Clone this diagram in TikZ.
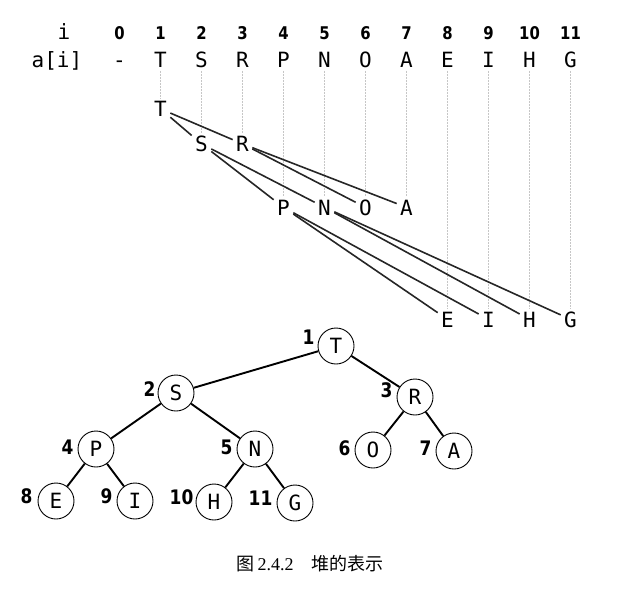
\documentclass[tikz,border=0pt]{standalone}
\usepackage{fontspec}
\newfontfamily\monof{DejaVu Sans Mono}
\newfontfamily\numf{DejaVu Sans}[FakeStretch=0.85]
\newfontfamily\cjkf{Noto Sans CJK SC}
\newfontfamily\serf{Liberation Serif}
\tikzset{
  arrlet/.style={font=\monof\fontsize{21}{25}\selectfont, inner sep=1pt, outer sep=2.5pt, anchor=base},
  hdr/.style={font=\numf\bfseries\fontsize{17.5}{21}\selectfont, inner sep=0pt, anchor=base},
  guide/.style={gray!45, line width=0.5pt, densely dotted},
  link/.style={line width=1.6pt, black!85},
  heapnode/.style={circle, draw, line width=0.9pt, minimum size=36pt, inner sep=0pt, font=\monof\fontsize{21}{25}\selectfont},
  tedge/.style={line width=1.9pt},
  idx/.style={font=\numf\bfseries\fontsize{20}{24}\selectfont, inner sep=0pt, anchor=east},
}
\begin{document}
\begin{tikzpicture}[x=1pt, y=-1pt]
\useasboundingbox (0,0) rectangle (618,594);
% header
\node[arrlet] (hi) at (64,40) {i};
\node[arrlet] (ai) at (57,67) {a[i]};
\foreach \k/\v in {0/-,1/T,2/S,3/R,4/P,5/N,6/O,7/A,8/E,9/I,10/H,11/G}{
  \node[hdr] (h\k) at ({119.5+41*\k},40) {\k};
  \node[arrlet] (a\k) at ({119.5+41*\k},67) {\v};
}
% upper layered tree letters
\node[arrlet] (uT) at (160.5,116.5) {T};
\node[arrlet] (uS) at (201.5,151.5) {S};
\node[arrlet] (uR) at (242.5,151.5) {R};
\node[arrlet] (uP) at (283.5,215) {P};
\node[arrlet] (uN) at (324.5,215) {N};
\node[arrlet] (uO) at (365.5,215) {O};
\node[arrlet] (uA) at (406.5,215) {A};
\node[arrlet] (uE) at (447.5,327) {E};
\node[arrlet] (uI) at (488.5,327) {I};
\node[arrlet] (uH) at (529.5,327) {H};
\node[arrlet] (uG) at (570.5,327) {G};
% guides
\draw[guide] (a1.south) -- (uT.north);
\draw[guide] (a2.south) -- (uS.north);
\draw[guide] (a3.south) -- (uR.north);
\draw[guide] (a4.south) -- (uP.north);
\draw[guide] (a5.south) -- (uN.north);
\draw[guide] (a6.south) -- (uO.north);
\draw[guide] (a7.south) -- (uA.north);
\draw[guide] (a8.south) -- (uE.north);
\draw[guide] (a9.south) -- (uI.north);
\draw[guide] (a10.south) -- (uH.north);
\draw[guide] (a11.south) -- (uG.north);
% links
\draw[link] (uT) -- (uS);
\draw[link] (uT) -- (uR);
\draw[link] (uS) -- (uP);
\draw[link] (uS) -- (uN);
\draw[link] (uR) -- (uO);
\draw[link] (uR) -- (uA);
\draw[link] (uP) -- (uE);
\draw[link] (uP) -- (uI);
\draw[link] (uN) -- (uH);
\draw[link] (uN) -- (uG);
% heap tree
\node[heapnode] (tT) at (336,346) {T};
\node[heapnode] (tS) at (176,393) {S};
\node[heapnode] (tR) at (415,397) {R};
\node[heapnode] (tP) at (96,449) {P};
\node[heapnode] (tN) at (255,449) {N};
\node[heapnode] (tO) at (373,450) {O};
\node[heapnode] (tA) at (454,451) {A};
\node[heapnode] (tE) at (56,501) {E};
\node[heapnode] (tI) at (135,501) {I};
\node[heapnode] (tH) at (214,502) {H};
\node[heapnode] (tG) at (295,503) {G};
\draw[tedge] (tT) -- (tS);
\draw[tedge] (tT) -- (tR);
\draw[tedge] (tS) -- (tP);
\draw[tedge] (tS) -- (tN);
\draw[tedge] (tR) -- (tO);
\draw[tedge] (tR) -- (tA);
\draw[tedge] (tP) -- (tE);
\draw[tedge] (tP) -- (tI);
\draw[tedge] (tN) -- (tH);
\draw[tedge] (tN) -- (tG);
\node[idx] (n1) at ([xshift=-3pt,yshift=9pt]tT.west) {1};
\node[idx] (n2) at ([xshift=-2pt,yshift=4pt]tS.west) {2};
\node[idx] (n3) at ([xshift=-4pt,yshift=7pt]tR.west) {3};
\node[idx] (n4) at ([xshift=-4pt,yshift=2pt]tP.west) {4};
\node[idx] (n5) at ([xshift=-4pt,yshift=2pt]tN.west) {5};
\node[idx] (n6) at ([xshift=-4pt,yshift=2pt]tO.west) {6};
\node[idx] (n7) at ([xshift=-4pt,yshift=3pt]tA.west) {7};
\node[idx] (n8) at ([xshift=-5pt,yshift=5pt]tE.west) {8};
\node[idx] (n9) at ([xshift=-4pt,yshift=5pt]tI.west) {9};
\node[idx] (n10) at ([xshift=-2pt,yshift=5pt]tH.west) {10};
\node[idx] (n11) at ([xshift=-4pt,yshift=5pt]tG.west) {11};
% caption
\node[anchor=base, inner sep=0pt, font=\fontsize{18}{21}\selectfont] (cap) at (310,570)
  {{\cjkf 图}\,{\serf 2.4.2}\quad{\cjkf 堆的表示}};
\end{tikzpicture}
\end{document}
